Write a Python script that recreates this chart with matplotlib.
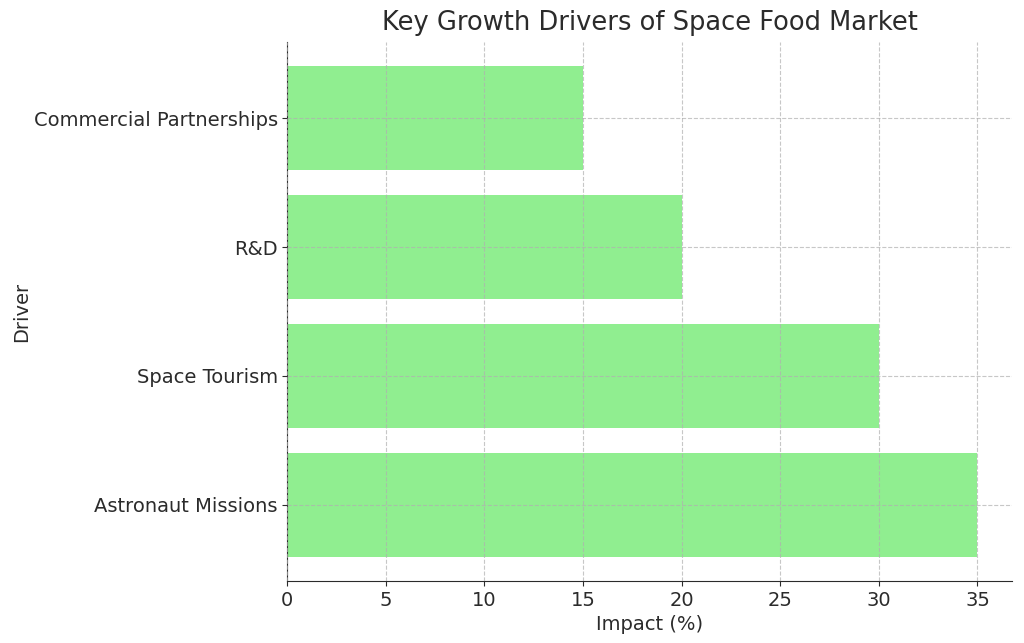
import matplotlib
matplotlib.use("Agg")
import matplotlib.pyplot as plt

drivers = ["Astronaut Missions", "Space Tourism", "R&D", "Commercial Partnerships"]
impact = [35, 30, 20, 15]

text_color = "#2b2b2b"
plt.rcParams["font.family"] = ["DejaVu Sans"]

fig = plt.figure(figsize=(10.24, 6.43), dpi=100)
ax = fig.add_axes([287/1024, 1 - 581/643, (1012-287)/1024, (581-42)/643])
ax.barh(drivers, impact, color="#90EE90", height=0.8)
ax.grid(True, linestyle="--", color="#b0b0b0", alpha=0.7, linewidth=0.8)
ax.set_axisbelow(False)
for s in ["top", "right"]:
    ax.spines[s].set_visible(False)
for s in ["left", "bottom"]:
    ax.spines[s].set_color(text_color)
ax.tick_params(colors=text_color, labelsize=14)
ax.tick_params(axis="y", pad=3)
ax.set_xlabel("Impact (%)", fontsize=14, color=text_color)
ax.set_ylabel("Driver", fontsize=14, color=text_color, labelpad=2)
ax.set_title("Key Growth Drivers of Space Food Market", fontsize=18.5, color=text_color, pad=9)
fig.savefig("out.png", dpi=100)
